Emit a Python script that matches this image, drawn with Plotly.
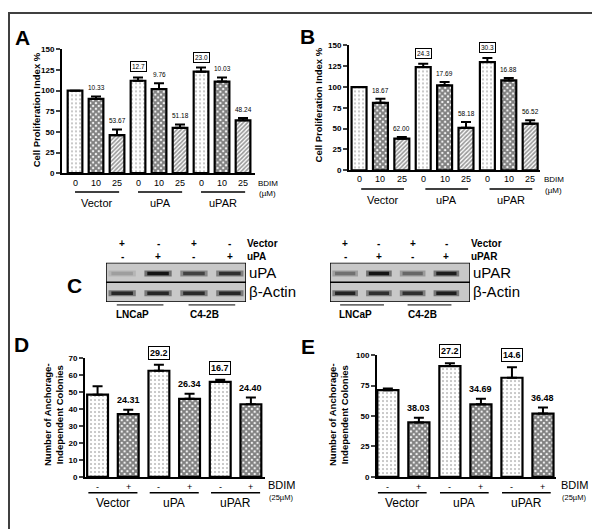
import plotly.graph_objects as go

W, H = 600, 529
FONT = "Arial, Liberation Sans, sans-serif"

# ---------------- data ----------------
conc_ticks = ["0", "10", "25", "0", "10", "25", "0", "10", "25"]
groups = ["Vector", "uPA", "uPAR"]

a_vals = [100, 90, 46, 112, 102, 55, 123, 111, 64]
a_err = [0, 3, 7, 4, 7, 4, 5, 5, 3]
a_labels = ["", "10.33", "53.67", "12.7", "9.76", "51.18", "23.0", "10.03", "48.24"]
a_boxed = [False, False, False, True, False, False, True, False, False]

b_vals = [100, 81, 38, 124, 102, 51, 130, 108, 56]
b_err = [0, 5, 2, 4, 4, 7, 5, 3, 4]
b_labels = ["", "18.67", "62.00", "24.3", "17.69", "58.18", "30.3", "16.88", "56.52"]
b_boxed = [False, False, False, True, False, False, True, False, False]

bdim_ticks = ["-", "+", "-", "+", "-", "+"]

d_vals = [48.4, 37, 62.5, 46, 56, 42.8]
d_err = [5, 2.5, 3.6, 3, 1.2, 3.9]
d_labels = ["", "24.31", "29.2", "26.34", "16.7", "24.40"]
d_boxed = [False, False, True, False, True, False]

e_vals = [71.2, 44.7, 91, 59.6, 81.4, 52]
e_err = [1.3, 3.8, 2.2, 4.6, 8.6, 4.9]
e_labels = ["", "38.03", "27.2", "34.69", "14.6", "36.48"]
e_boxed = [False, False, True, False, True, False]

vector_signs = ["+", "-", "+", "-"]
insert_signs = ["-", "+", "-", "+"]
upa_band = [0.25, 1.0, 0.75, 0.85]
upa_actin = [0.9, 0.9, 0.88, 0.9]
upar_band = [0.5, 1.0, 0.55, 0.95]
upar_actin = [0.92, 0.85, 0.85, 0.95]
cell_lines = ["LNCaP", "C4-2B"]


def px(p):
    return p / W


def py(p):
    return 1 - p / H


fig = go.Figure()
annotations = []
shapes = []


def ann(**kw):
    kw.setdefault("showarrow", False)
    kw.setdefault("xanchor", "center")
    kw.setdefault("yanchor", "middle")
    annotations.append(kw)


def fnt(size, bold=False):
    return dict(family=FONT, size=size, color="#000000", weight="bold" if bold else "normal")


STYLE = {
    "dot": dict(shape=".", fg="#7a7a7a", size=4, sol=0.22),
    "chk": dict(shape="x", fg="#000000", size=4, sol=0.75),
    "diag": dict(shape="/", fg="#333333", size=3, sol=0.55),
}


def bar_panel(n, vals, err, labels, boxed, styles, ax, xr, yr, xdom, ydom,
              yt, lab_size, lab_bold):
    xa = "x" if ax == 1 else f"x{ax}"
    ya = "y" if ax == 1 else f"y{ax}"
    st = [STYLE[s] for s in styles]
    fig.add_trace(go.Bar(
        x=list(range(n)), y=vals, width=0.7 if n == 9 else 0.68,
        xaxis=xa, yaxis=ya, showlegend=False,
        marker=dict(color="white", line=dict(color="black", width=2.2),
                    pattern=dict(shape=[s["shape"] for s in st],
                                 fgcolor=[s["fg"] for s in st],
                                 size=[s["size"] for s in st],
                                 solidity=[s["sol"] for s in st],
                                 fillmode="overlay")),
        error_y=dict(type="data", array=err, arrayminus=[0] * n, symmetric=False,
                     color="black", thickness=2, width=5),
    ))
    lay_x = dict(domain=[px(xdom[0]), px(xdom[1])], range=xr, anchor=ya,
                 showgrid=False, zeroline=False, showticklabels=False,
                 showline=True, linecolor="black", linewidth=2, ticks="")
    lay_y = dict(domain=[py(ydom[1]), py(ydom[0])], range=yr, anchor=xa,
                 showgrid=False, zeroline=False, showline=True,
                 linecolor="black", linewidth=2, ticks="outside", ticklen=4,
                 tickwidth=2, tickvals=yt, tickfont=fnt(8, True))
    fig.update_layout(**{("xaxis" if ax == 1 else f"xaxis{ax}"): lay_x,
                         ("yaxis" if ax == 1 else f"yaxis{ax}"): lay_y})
    for i in range(n):
        if labels[i]:
            ann(x=i, y=vals[i] + err[i], xref=xa, yref=ya, text=labels[i],
                yanchor="bottom", yshift=5 if boxed[i] else 3,
                font=fnt(lab_size, lab_bold),
                bordercolor="#000000" if boxed[i] else "rgba(255,255,255,0)",
                borderwidth=1, borderpad=1)
    return xa, ya


def x_labels(xa, ticks, tick_y, per, line_y, lx0, lx1, name_y, tick_size, name_size,
             bdim_x, bdim_y, unit_y, unit_text, bdim_size, unit_size):
    for i, t in enumerate(ticks):
        ann(x=i, y=py(tick_y), xref=xa, yref="paper", text=t, font=fnt(tick_size))
    for g, name in enumerate(groups):
        shapes.append(dict(type="line", xref=xa, yref="paper", x0=per * g + lx0, x1=per * g + lx1,
                           y0=py(line_y), y1=py(line_y), line=dict(color="black", width=1.5)))
        ann(x=per * g + (lx0 + lx1) / 2, y=py(name_y), xref=xa, yref="paper", text=name,
            font=fnt(name_size))
    ann(x=px(bdim_x), y=py(bdim_y), xref="paper", yref="paper", text="BDIM",
        xanchor="left", font=fnt(bdim_size))
    ann(x=px(bdim_x + 1), y=py(unit_y), xref="paper", yref="paper", text=unit_text,
        xanchor="left", font=fnt(unit_size))


# ---------------- panel A ----------------
xa, ya = bar_panel(9, a_vals, a_err, a_labels, a_boxed,
                   ["dot", "chk", "diag"] * 3, 1, [-0.62, 8.57], [0, 150],
                   (54, 247), (38, 164), [0, 25, 50, 75, 100, 125, 150], 6.5, False)
x_labels(xa, conc_ticks, 174, 3, 183, 0.0, 2.1, 194, 9, 11, 248, 174, 185, "(µM)", 8, 8)
ann(x=px(28), y=py(100), xref="paper", yref="paper", textangle=-90,
    text="Cell Proliferation Index %", font=fnt(9.5, True))

# ---------------- panel B ----------------
xb, yb = bar_panel(9, b_vals, b_err, b_labels, b_boxed,
                   ["dot", "chk", "diag"] * 3, 2, [-0.47, 8.46], [0, 150],
                   (341, 532), (34, 161), [0, 25, 50, 75, 100, 125, 150], 6.5, False)
x_labels(xb, conc_ticks, 170, 3, 180, 0.1, 2.1, 191, 9, 11, 534, 170, 182, "(µM)", 8, 8)
ann(x=px(310), y=py(95), xref="paper", yref="paper", textangle=-90,
    text="Cell Proliferation Index %", font=fnt(9.5, True))

# ---------------- panel D ----------------
xd, yd = bar_panel(6, d_vals, d_err, d_labels, d_boxed,
                   ["dot", "chk"] * 3, 3, [-0.41, 5.46], [0, 70],
                   (77, 257), (352, 473), [0, 10, 20, 30, 40, 50, 60, 70], 9, True)
x_labels(xd, bdim_ticks, 483, 2, 489, -0.3, 1.3, 499, 9, 12, 258, 481, 494, "(25µM)", 11, 7.5)
ann(x=px(45), y=py(410), xref="paper", yref="paper", textangle=-90,
    text="Number of Anchorage-<br>Independent Colonies", font=fnt(9.5, True))

# ---------------- panel E ----------------
xe, ye = bar_panel(6, e_vals, e_err, e_labels, e_boxed,
                   ["dot", "chk"] * 3, 4, [-0.35, 5.42], [0, 100],
                   (369, 548), (349, 473), [0, 25, 50, 75, 100], 9, True)
x_labels(xe, bdim_ticks, 483, 2, 489, -0.32, 1.25, 500, 9, 12, 551, 481, 494, "(25µM)", 11, 7.5)
ann(x=px(330), y=py(410), xref="paper", yref="paper", textangle=-90,
    text="Number of Anchorage-<br>Independent Colonies", font=fnt(9.5, True))


# ---------------- panel C (blots) ----------------
def gray(v):
    g = int(205 - 185 * v)
    return f"rgb({g},{g},{g})"


def blot(ax, xdom, xr, band, actin, insert_name):
    xa, ya = f"x{ax}", f"y{ax}"
    fig.update_layout(**{
        f"xaxis{ax}": dict(domain=[px(xdom[0]), px(xdom[1])], range=xr, anchor=ya, visible=False),
        f"yaxis{ax}": dict(domain=[py(295), py(255)], range=[0, 2], anchor=xa, visible=False),
    })
    for row in (0, 1):
        shapes.append(dict(type="rect", xref=xa, yref=ya, x0=xr[0], x1=xr[1], y0=row, y1=row + 1,
                           fillcolor="#c8c8c8", line=dict(color="black", width=1.5), layer="below"))
    for row, vals in ((1, band), (0, actin)):
        for i, v in enumerate(vals):
            fig.add_trace(go.Scatter(x=[i - 0.38, i + 0.38], y=[row + 0.45, row + 0.45],
                                     mode="lines", xaxis=xa, yaxis=ya, showlegend=False,
                                     hoverinfo="skip", line=dict(color=gray(v * 0.5), width=6)))
            fig.add_trace(go.Scatter(x=[i - 0.3, i + 0.3], y=[row + 0.45, row + 0.45],
                                     mode="lines", xaxis=xa, yaxis=ya, showlegend=False,
                                     hoverinfo="skip", line=dict(color=gray(v), width=3.5)))
    for i in range(4):
        ann(x=i, y=py(235), xref=xa, yref="paper", text=vector_signs[i], font=fnt(10, True))
        ann(x=i, y=py(249), xref=xa, yref="paper", text=insert_signs[i], font=fnt(10, True))
    rx = xdom[1]
    ann(x=px(rx - 1), y=py(235), xref="paper", yref="paper", text="Vector",
        xanchor="left", font=fnt(10, True))
    ann(x=px(rx - 1), y=py(249), xref="paper", yref="paper", text=insert_name,
        xanchor="left", font=fnt(10, True))
    ann(x=px(rx + 1), y=py(265), xref="paper", yref="paper", text=insert_name,
        xanchor="left", font=fnt(15))
    ann(x=px(rx + 1), y=py(284), xref="paper", yref="paper", text="β-Actin",
        xanchor="left", font=fnt(15))
    for k, name in enumerate(cell_lines):
        shapes.append(dict(type="line", xref=xa, yref="paper", x0=2 * k - 0.15, x1=2 * k + 1.15,
                           y0=py(298), y1=py(298), line=dict(color="black", width=1)))
        ann(x=2 * k + 0.3, y=py(308), xref=xa, yref="paper", text=name, font=fnt(10, True))


blot(5, (98, 238), [-0.45, 3.45], upa_band, upa_actin, "uPA")
blot(6, (322, 462), [-0.45, 3.7], upar_band, upar_actin, "uPAR")

# panel letters
for t, x, y in (("A", 14, 26), ("B", 299, 25), ("C", 66, 278), ("D", 13, 338), ("E", 300, 340)):
    ann(x=px(x), y=py(y), xref="paper", yref="paper", text=t, font=fnt(21, True))

# outer frame
shapes.append(dict(type="rect", xref="paper", yref="paper", x0=px(1), x1=px(598), y0=py(527), y1=py(1),
                   line=dict(color="#404040", width=2), fillcolor="rgba(0,0,0,0)"))

fig.update_layout(
    width=W, height=H, margin=dict(l=0, r=0, t=0, b=0),
    paper_bgcolor="white", plot_bgcolor="rgba(0,0,0,0)",
    annotations=annotations, shapes=shapes, bargap=0.3,
    font=dict(family=FONT, color="black"),
)

fig.write_html("out.html")
